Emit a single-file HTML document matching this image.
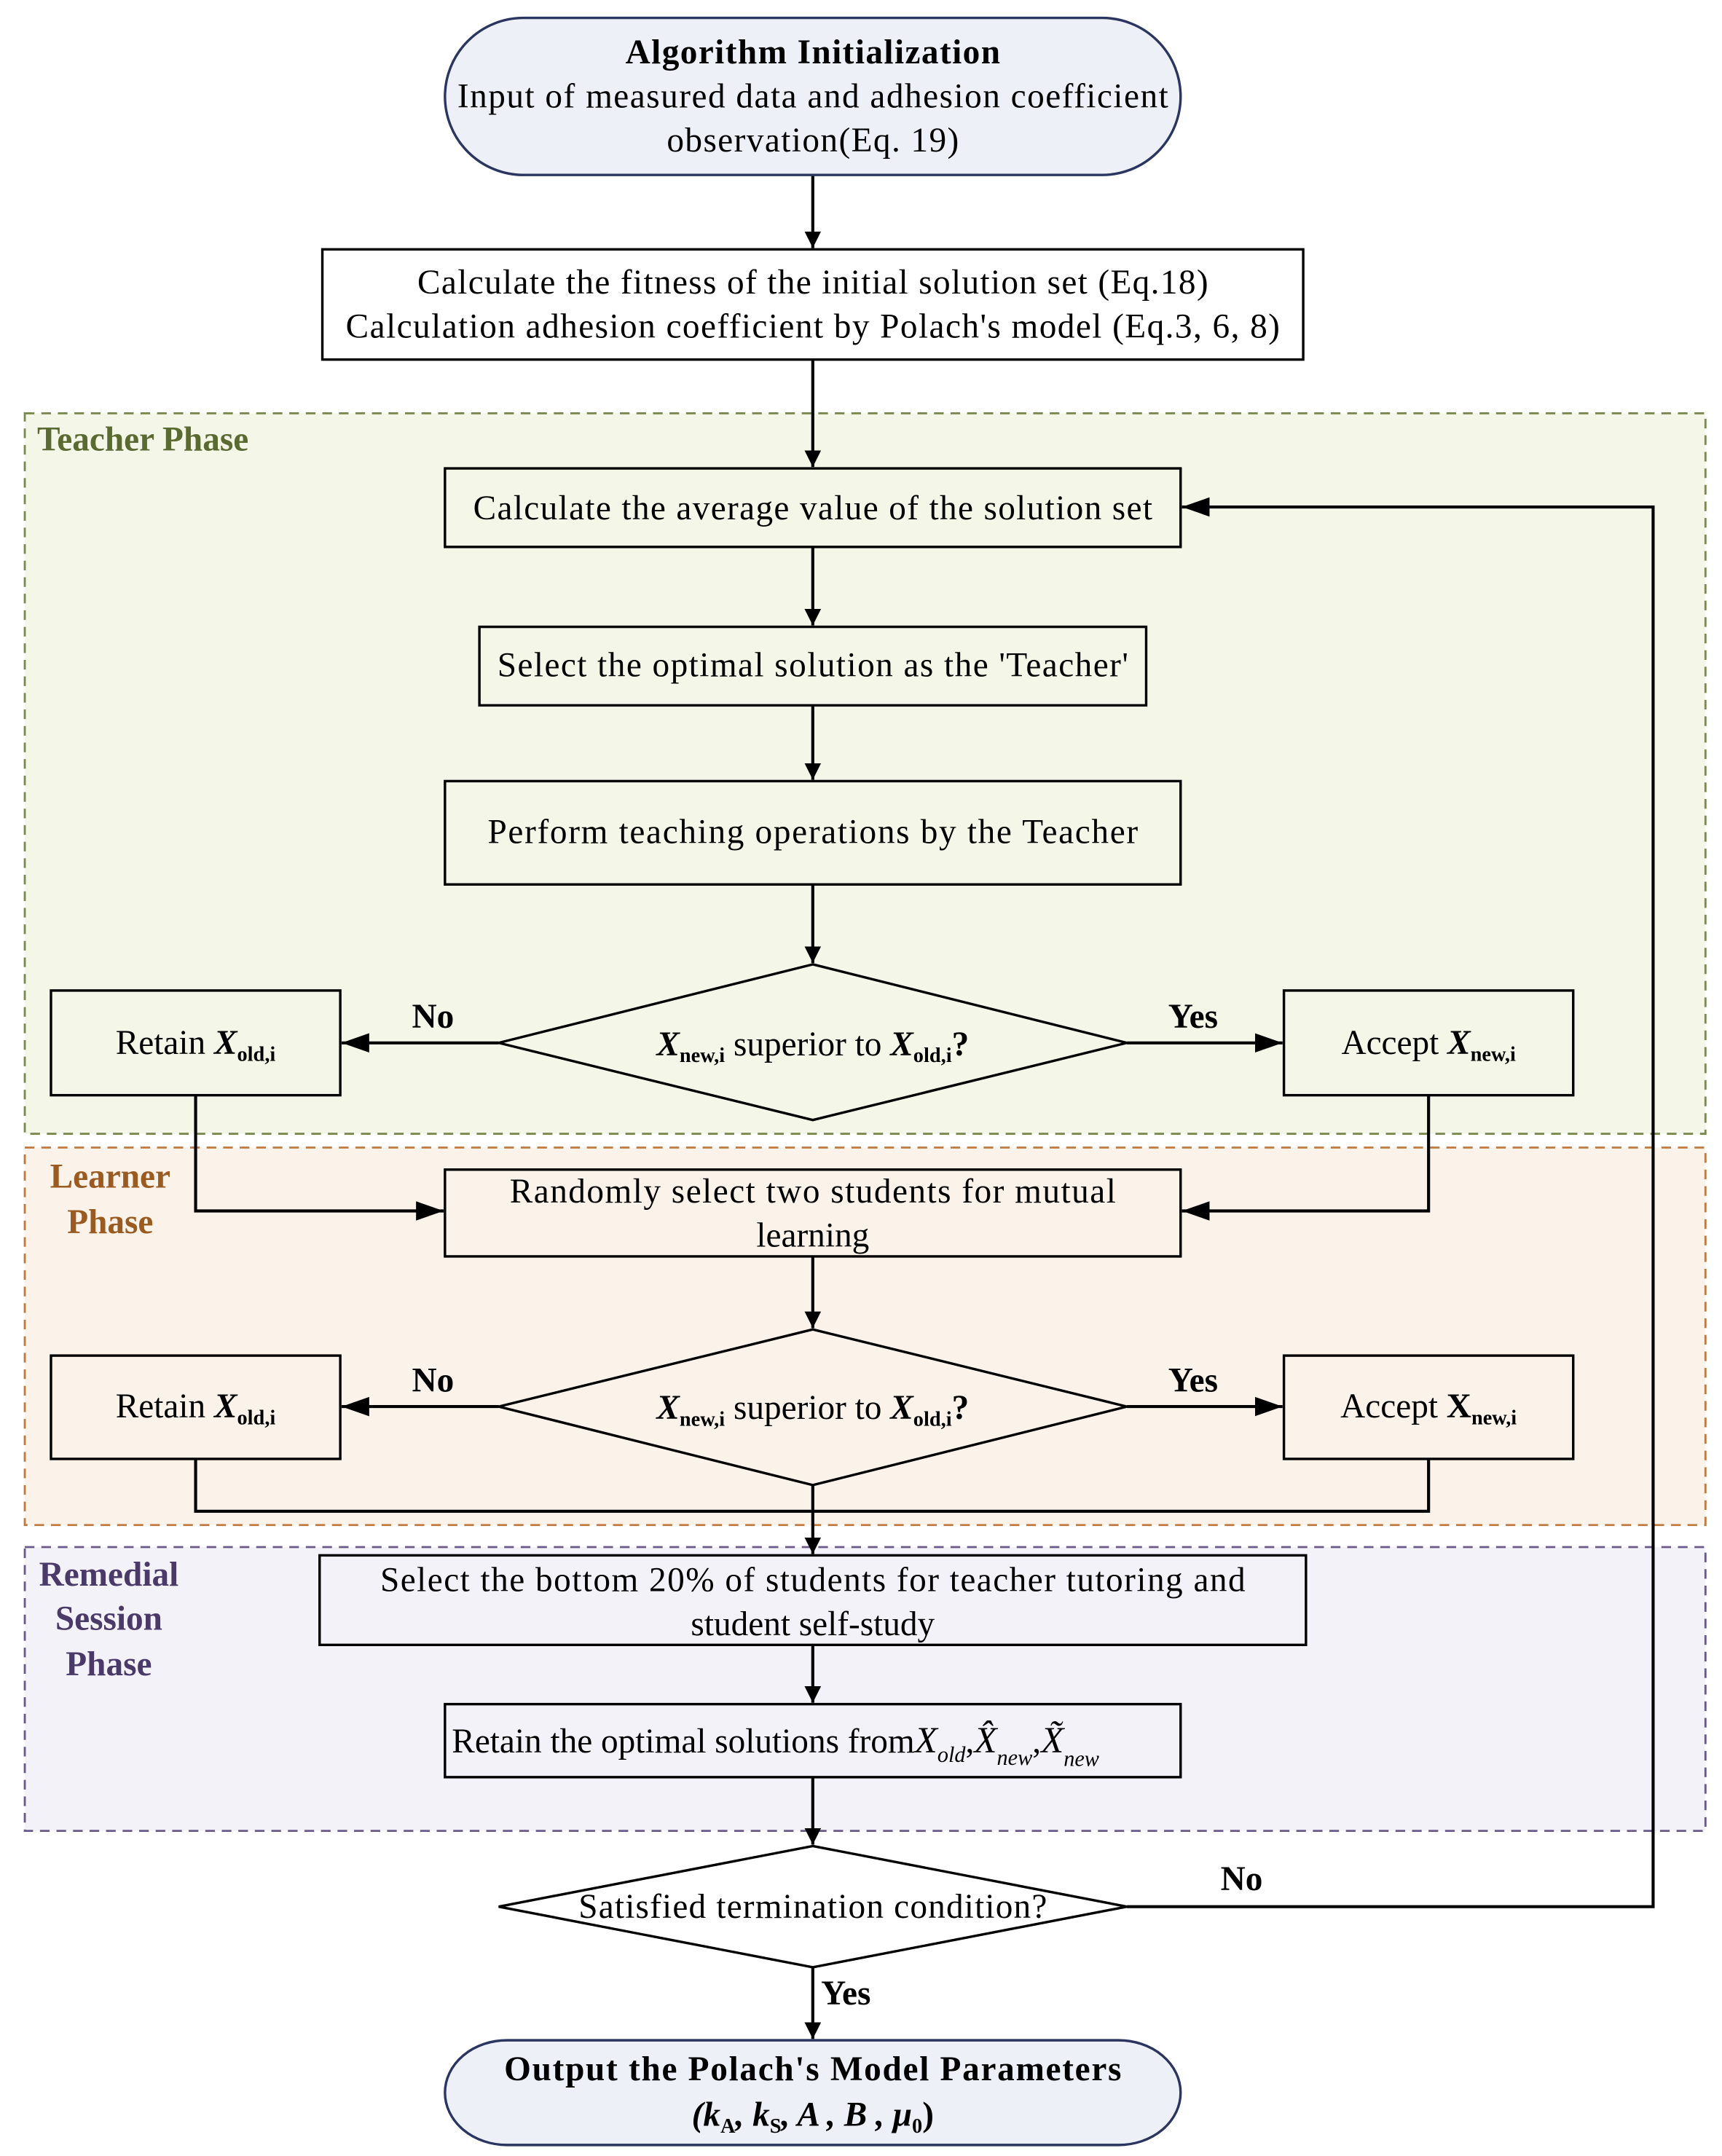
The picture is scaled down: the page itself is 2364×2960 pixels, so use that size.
<!DOCTYPE html>
<html><head><meta charset="utf-8"><style>html,body{margin:0;padding:0;background:#fff}svg{display:block}</style></head>
<body>
<svg width="2364" height="2960" viewBox="0 0 1250 1565" preserveAspectRatio="none" xmlns="http://www.w3.org/2000/svg" font-family="Liberation Serif, serif" font-size="25">
<defs>
<marker id="a" viewBox="0 0 10 10" refX="10" refY="5" markerWidth="12" markerHeight="12" markerUnits="userSpaceOnUse" orient="auto"><path d="M0,0L10,5L0,10z" fill="#000"/></marker>
<marker id="b" viewBox="0 0 10 10" refX="10" refY="5" markerWidth="20" markerHeight="20" markerUnits="userSpaceOnUse" orient="auto"><path d="M0,1.5L10,5L0,8.5z" fill="#000"/></marker>
</defs>
<!-- regions -->
<rect x="18" y="300" width="1220" height="523" fill="#f4f6e8" stroke="#7a8a50" stroke-width="1.5" stroke-dasharray="7,5"/>
<rect x="18" y="833" width="1220" height="274" fill="#fbf2ea" stroke="#c07a40" stroke-width="1.5" stroke-dasharray="7,5"/>
<rect x="18" y="1123" width="1220" height="206" fill="#f3f2f8" stroke="#6a5a8a" stroke-width="1.5" stroke-dasharray="7,5"/>
<g font-weight="bold" font-size="25">
<text x="27" y="327" fill="#5a6a30">Teacher Phase</text>
<text x="80" y="862" fill="#9a5a20" text-anchor="middle">Learner</text>
<text x="80" y="895" fill="#9a5a20" text-anchor="middle">Phase</text>
<text x="79" y="1151" fill="#4a3a6a" text-anchor="middle">Remedial</text>
<text x="79" y="1183" fill="#4a3a6a" text-anchor="middle">Session</text>
<text x="79" y="1216" fill="#4a3a6a" text-anchor="middle">Phase</text>
</g>
<!-- connectors -->
<g stroke="#000" stroke-width="2.2" fill="none">
<line x1="590" y1="127" x2="590" y2="180" marker-end="url(#a)"/>
<line x1="590" y1="261" x2="590" y2="339" marker-end="url(#a)"/>
<line x1="590" y1="397" x2="590" y2="454" marker-end="url(#a)"/>
<line x1="590" y1="512" x2="590" y2="566" marker-end="url(#a)"/>
<line x1="590" y1="642" x2="590" y2="699" marker-end="url(#a)"/>
<line x1="362" y1="757" x2="248" y2="757" marker-end="url(#b)"/>
<line x1="818" y1="757" x2="931" y2="757" marker-end="url(#b)"/>
<polyline points="142,795 142,879 322,879" marker-end="url(#b)"/>
<polyline points="1037,795 1037,879 858,879" marker-end="url(#b)"/>
<line x1="590" y1="912" x2="590" y2="964" marker-end="url(#a)"/>
<line x1="362" y1="1021" x2="248" y2="1021" marker-end="url(#b)"/>
<line x1="818" y1="1021" x2="931" y2="1021" marker-end="url(#b)"/>
<polyline points="142,1059 142,1097 1037,1097 1037,1059"/>
<line x1="590" y1="1078" x2="590" y2="1128" marker-end="url(#a)"/>
<line x1="590" y1="1194" x2="590" y2="1236" marker-end="url(#a)"/>
<line x1="590" y1="1290" x2="590" y2="1339" marker-end="url(#a)"/>
<polyline points="818,1384 1200,1384 1200,368 858,368" marker-end="url(#b)"/>
<line x1="590" y1="1428" x2="590" y2="1480" marker-end="url(#a)"/>
</g>
<!-- nodes -->
<g stroke="#000" stroke-width="1.8">
<rect x="323" y="13" width="534" height="114" rx="57" fill="#eef0f8" stroke="#2a3560"/>
<rect x="234" y="181" width="712" height="80" fill="#fff"/>
<rect x="323" y="340" width="534" height="57" fill="#f4f6e8"/>
<rect x="348" y="455" width="484" height="57" fill="#f4f6e8"/>
<rect x="323" y="567" width="534" height="75" fill="#f4f6e8"/>
<polygon points="590,700 818,757 590,813 362,757" fill="#f4f6e8"/>
<rect x="37" y="719" width="210" height="76" fill="#f4f6e8"/>
<rect x="932" y="719" width="210" height="76" fill="#f4f6e8"/>
<rect x="323" y="849" width="534" height="63" fill="#fbf2ea"/>
<polygon points="590,965 818,1021 590,1078 362,1021" fill="#fbf2ea"/>
<rect x="37" y="984" width="210" height="75" fill="#fbf2ea"/>
<rect x="932" y="984" width="210" height="75" fill="#fbf2ea"/>
<rect x="232" y="1129" width="716" height="65" fill="#f3f2f8"/>
<rect x="323" y="1237" width="534" height="53" fill="#f3f2f8"/>
<polygon points="590,1340 818,1384 590,1428 362,1384" fill="#fff"/>
<rect x="323" y="1481" width="534" height="76" rx="45" fill="#eef0f8" stroke="#2a3560"/>
</g>
<!-- text -->
<g fill="#000" text-anchor="middle">
<text x="590" y="46" font-weight="bold" textLength="272">Algorithm Initialization</text>
<text x="590" y="78" textLength="516">Input of measured data and adhesion coefficient</text>
<text x="590" y="110" textLength="212">observation(Eq. 19)</text>
<text x="590" y="213" textLength="574">Calculate the fitness of the initial solution set (Eq.18)</text>
<text x="590" y="245" textLength="678">Calculation adhesion coefficient by Polach's model (Eq.3, 6, 8)</text>
<text x="590" y="377" textLength="493">Calculate the average value of the solution set</text>
<text x="590" y="491" textLength="458">Select the optimal solution as the 'Teacher'</text>
<text x="590" y="612" textLength="472">Perform teaching operations by the Teacher</text>
<text x="590" y="766">
<tspan font-style="italic" font-weight="bold">X</tspan><tspan font-size="15" font-weight="bold" dy="5">new,i</tspan><tspan dy="-5">  superior to </tspan><tspan font-style="italic" font-weight="bold">X</tspan><tspan font-size="15" font-weight="bold" dy="5">old,i</tspan><tspan dy="-5" font-weight="bold">?</tspan></text>
<text x="142" y="765">Retain <tspan font-style="italic" font-weight="bold">X</tspan><tspan font-size="15" font-weight="bold" dy="5">old,i</tspan></text>
<text x="1037" y="765">Accept <tspan font-style="italic" font-weight="bold">X</tspan><tspan font-size="15" font-weight="bold" dy="5">new,i</tspan></text>
<text x="590" y="873" textLength="440">Randomly select two students for mutual</text>
<text x="590" y="905">learning</text>
<text x="590" y="1030">
<tspan font-style="italic" font-weight="bold">X</tspan><tspan font-size="15" font-weight="bold" dy="5">new,i</tspan><tspan dy="-5"> superior to </tspan><tspan font-style="italic" font-weight="bold">X</tspan><tspan font-size="15" font-weight="bold" dy="5">old,i</tspan><tspan dy="-5" font-weight="bold">?</tspan></text>
<text x="142" y="1029">Retain <tspan font-style="italic" font-weight="bold">X</tspan><tspan font-size="15" font-weight="bold" dy="5">old,i</tspan></text>
<text x="1037" y="1029">Accept <tspan font-weight="bold">X</tspan><tspan font-size="15" font-weight="bold" dy="5">new,i</tspan></text>
<text x="590" y="1155" textLength="628">Select the bottom 20% of students for teacher tutoring and</text>
<text x="590" y="1187">student self-study</text>
<text x="328" y="1272" text-anchor="start">Retain the optimal solutions from<tspan font-style="italic" font-size="27">X</tspan><tspan font-style="italic" font-size="16" dy="7">old</tspan><tspan dy="-7">,</tspan><tspan font-style="italic" font-size="27">X̂</tspan><tspan font-style="italic" font-size="16" dy="9">new</tspan><tspan dy="-9">,</tspan><tspan font-style="italic" font-size="27">X̃</tspan><tspan font-style="italic" font-size="16" dy="10">new</tspan></text>
<text x="590" y="1392" textLength="340">Satisfied termination condition?</text>
<text x="590" y="1510" font-weight="bold" textLength="448">Output the Polach's Model Parameters</text>
<text x="590" y="1543" font-weight="bold" font-style="italic">(k<tspan font-size="15" font-style="normal" dy="5">A</tspan><tspan dy="-5">, k</tspan><tspan font-size="15" font-style="normal" dy="5">S</tspan><tspan dy="-5">, A , B ,  μ</tspan><tspan font-size="15" font-style="normal" dy="5">0</tspan><tspan dy="-5" font-style="normal">)</tspan></text>
</g>
<g font-weight="bold" font-size="25">
<text x="299" y="746">No</text>
<text x="848" y="746">Yes</text>
<text x="299" y="1010">No</text>
<text x="848" y="1010">Yes</text>
<text x="886" y="1372">No</text>
<text x="596" y="1455">Yes</text>
</g>
</svg>
</body></html>
